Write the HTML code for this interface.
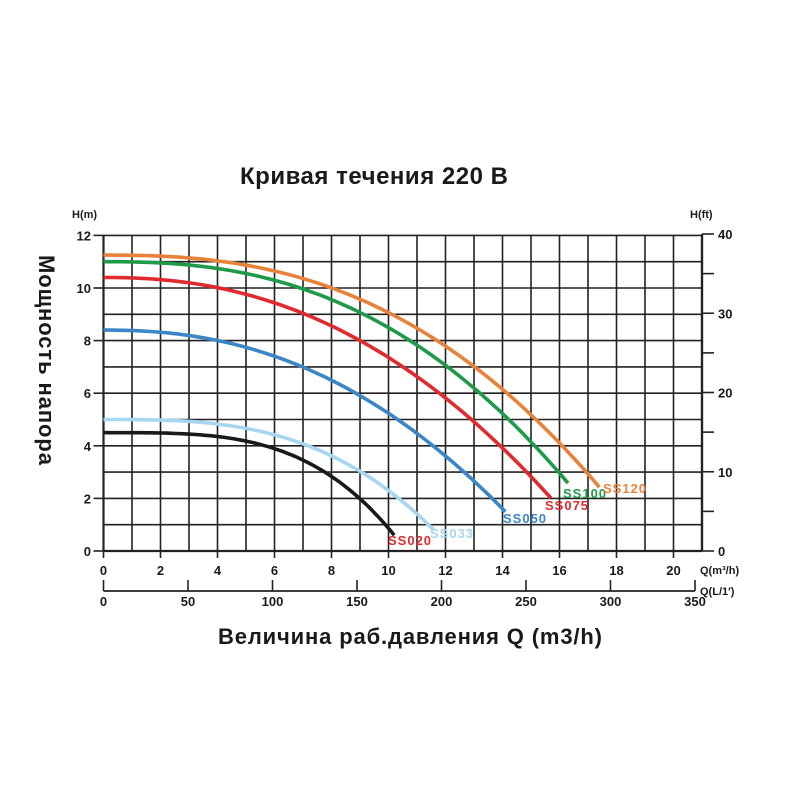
<!DOCTYPE html>
<html><head><meta charset="utf-8"><style>
html,body{margin:0;padding:0;background:#fff;width:800px;height:800px;overflow:hidden}
svg text{font-family:"Liberation Sans","DejaVu Sans",sans-serif;font-weight:bold;fill:#1a1a1a}
</style></head><body>
<svg id="s" width="800" height="800" viewBox="0 0 800 800" xmlns="http://www.w3.org/2000/svg">
<text x="374" y="184" font-size="24" text-anchor="middle" textLength="268">Кривая течения 220 В</text>
<text x="410" y="644" font-size="22" text-anchor="middle" textLength="384">Величина раб.давления Q (m3/h)</text>
<text transform="translate(39,360) rotate(90)" font-size="22" text-anchor="middle" textLength="210">Мощность напора</text>
<text x="72" y="218" font-size="11">H(m)</text>
<text x="690" y="218" font-size="11">H(ft)</text>
<text x="700" y="574" font-size="11">Q(m³/h)</text>
<text x="700" y="595" font-size="11">Q(L/1′)</text>
<g id="g"></g>
</svg>
<script>
var g=document.getElementById('g'),ns='http://www.w3.org/2000/svg';
function el(t,a,txt){var e=document.createElementNS(ns,t);for(var k in a)e.setAttribute(k,a[k]);if(txt!==undefined)e.textContent=txt;g.appendChild(e);return e;}
var X0=103.5,XU=28.5,Y0=551,YU=26.3,XR=X0+21*XU;
function px(x){return X0+x*XU}function py(h){return Y0-h*YU}
for(var i=0;i<=21;i++)el('line',{x1:px(i),y1:py(12),x2:px(i),y2:Y0,stroke:'#222','stroke-width':(i==0||i==21)?2.2:1.6});
for(var j=0;j<=12;j++)el('line',{x1:X0,y1:py(j),x2:XR,y2:py(j),stroke:'#222','stroke-width':(j==0)?2.2:1.6});
for(var j=0;j<=12;j+=2){el('line',{x1:X0-10,y1:py(j),x2:X0,y2:py(j),stroke:'#222','stroke-width':1.6});el('text',{x:91,y:py(j)+5,'font-size':13,'text-anchor':'end'},j);}
for(var i=0;i<=20;i+=2){el('line',{x1:px(i),y1:Y0,x2:px(i),y2:Y0+7,stroke:'#222','stroke-width':1.6});el('text',{x:px(i),y:575,'font-size':13,'text-anchor':'middle'},i);}
var LU=(695-X0)/350;
el('line',{x1:X0,y1:591,x2:695,y2:591,stroke:'#222','stroke-width':1.8});
for(var l=0;l<=350;l+=50){el('line',{x1:X0+l*LU,y1:580,x2:X0+l*LU,y2:591,stroke:'#222','stroke-width':1.6});el('text',{x:X0+l*LU,y:606,'font-size':13,'text-anchor':'middle'},l);}
var FU=(Y0-234)/40;
for(var f=0;f<=40;f+=5){var y=Y0-f*FU;el('line',{x1:XR,y1:y,x2:XR+12,y2:y,stroke:'#222','stroke-width':1.6});if(f%10==0)el('text',{x:718,y:y+5,'font-size':13},f);}
el('line',{x1:XR,y1:234,x2:XR,y2:Y0,stroke:'#222','stroke-width':2.2});
var C=[['#e8823a',11.25,0.0066,2.52,17.4],['#1f9a48',11.0,0.0083,2.48,16.3],['#e02a2e',10.4,0.0171,2.25,15.7],['#3b86c6',8.4,0.017,2.27,14.1],['#a6d6f0',5.0,0.0027,3.0,11.6],['#1a1a1a',4.5,0.00115,3.5,10.2]];
C.forEach(function(c){var d='';for(var k=0;k<=60;k++){var x=c[4]*k/60,h=c[1]-c[2]*Math.pow(x,c[3]);d+=(k?'L':'M')+px(x).toFixed(1)+','+py(h).toFixed(1);}el('path',{d:d,fill:'none',stroke:c[0],'stroke-width':3.6});});
var L=[['SS020',388,545,'#e02a2e'],['SS033',430,538,'#a6d6f0'],['SS050',503,523,'#3b86c6'],['SS075',545,510,'#e02a2e'],['SS100',563,498,'#1f9a48'],['SS120',603,493,'#e8823a']];
L.forEach(function(a){var t=el('text',{x:a[1],y:a[2],'font-size':13,'letter-spacing':'1'},a[0]);t.style.fill=a[3];});
</script>
</body></html>
